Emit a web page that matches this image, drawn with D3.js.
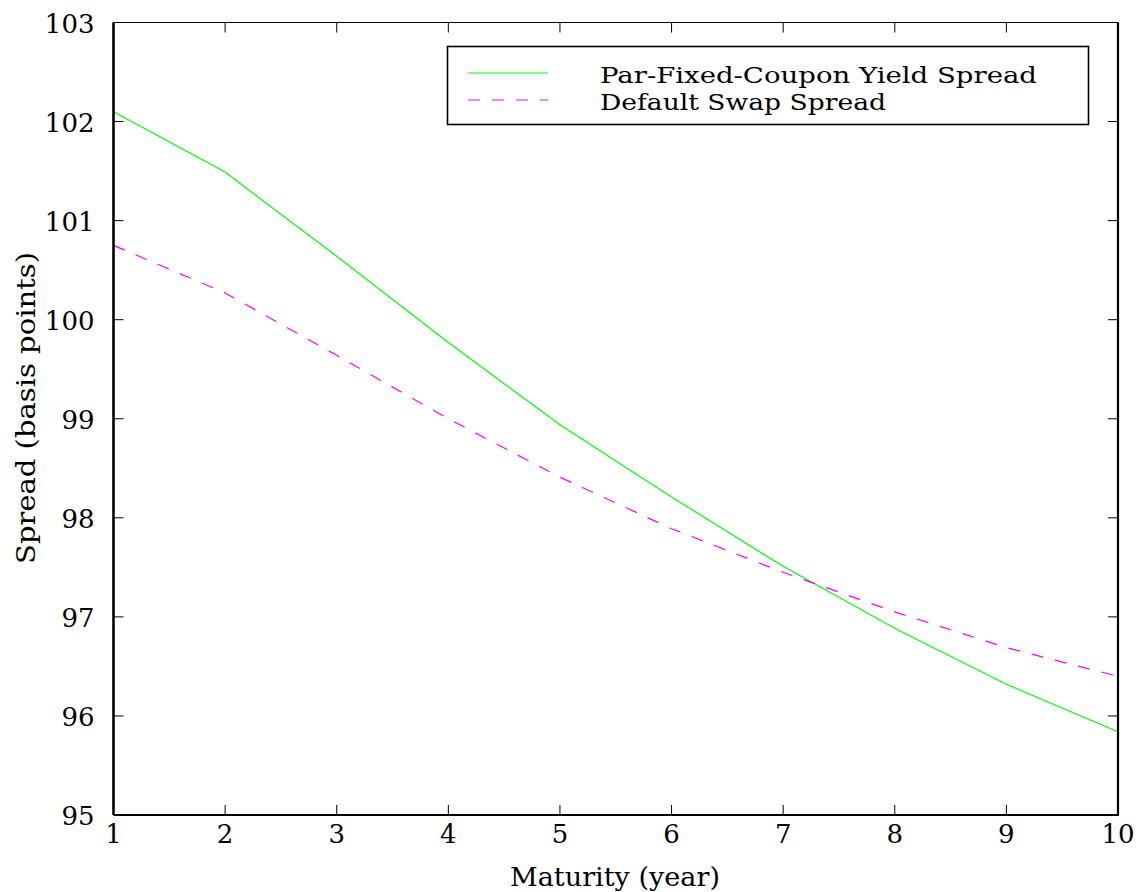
<!DOCTYPE html>
<html><head><meta charset="utf-8">
<script src="https://cdn.jsdelivr.net/npm/d3@7"></script>
<style>body{margin:0;background:#fff}svg{display:block}text{font-family:"DejaVu Serif",serif;fill:#000}</style>
</head><body><svg id="c" width="1143" height="892"></svg>
<script>
const maturities = [1,2,3,4,5,6,7,8,9,10];
const parYieldSpread = [102.10,101.49,100.64,99.77,98.94,98.21,97.51,96.885,96.32,95.84];
const defaultSwapSpread = [100.75,100.27,99.64,99.00,98.41,97.89,97.45,97.05,96.69,96.40];
const xTicks = [1,2,3,4,5,6,7,8,9,10];
const yTicks = [95,96,97,98,99,100,101,102,103];
const seriesNames = ["Par-Fixed-Coupon Yield Spread","Default Swap Spread"];

const svg = d3.select("#c");
const L=113.5, R=1118, T=22.5, B=815;
const x = d3.scaleLinear().domain([1,10]).range([L,R]);
const y = d3.scaleLinear().domain([95,103]).range([B,T]);
const fs = 26;

const tk = 10;
const g = svg.append("g");
xTicks.forEach(v=>{
  g.append("line").attr("x1",x(v)).attr("x2",x(v)).attr("y1",B).attr("y2",B-tk).attr("stroke","#000").attr("stroke-width",1);
  g.append("line").attr("x1",x(v)).attr("x2",x(v)).attr("y1",T).attr("y2",T+tk).attr("stroke","#000").attr("stroke-width",1);
  g.append("text").attr("x",x(v)).attr("y",B+28).attr("text-anchor","middle").attr("font-size",fs).text(v);
});
yTicks.forEach(v=>{
  g.append("line").attr("x1",L).attr("x2",L+tk).attr("y1",y(v)).attr("y2",y(v)).attr("stroke","#000").attr("stroke-width",1);
  g.append("line").attr("x1",R).attr("x2",R-tk).attr("y1",y(v)).attr("y2",y(v)).attr("stroke","#000").attr("stroke-width",1);
  g.append("text").attr("x",L-19).attr("y",y(v)+10).attr("text-anchor","end").attr("font-size",fs).text(v);
});

const line = d3.line().x((d,i)=>x(maturities[i])).y(d=>y(d));
svg.append("path").datum(parYieldSpread).attr("d",line).attr("fill","none").attr("stroke","#00ff00").attr("stroke-width",1.2);
svg.append("path").datum(defaultSwapSpread).attr("d",line).attr("fill","none").attr("stroke","#ff00ff").attr("stroke-width",1.2).attr("stroke-dasharray","12,12");

svg.append("line").attr("x1",L).attr("x2",R).attr("y1",T).attr("y2",T).attr("stroke","#000").attr("stroke-width",1.2);
svg.append("line").attr("x1",L).attr("x2",R+1).attr("y1",B).attr("y2",B).attr("stroke","#000").attr("stroke-width",2.2);
svg.append("line").attr("x1",L).attr("x2",L).attr("y1",T).attr("y2",B).attr("stroke","#000").attr("stroke-width",2.6);
svg.append("line").attr("x1",R).attr("x2",R).attr("y1",T).attr("y2",B).attr("stroke","#000").attr("stroke-width",2.2);

const lg = svg.append("g");
lg.append("rect").attr("x",447.5).attr("y",46.5).attr("width",641).attr("height",78).attr("fill","#fff").attr("stroke","#000").attr("stroke-width",1.6);
lg.append("line").attr("x1",468).attr("x2",548).attr("y1",73).attr("y2",73).attr("stroke","#00ff00").attr("stroke-width",1.2);
lg.append("line").attr("x1",468).attr("x2",548).attr("y1",100).attr("y2",100).attr("stroke","#ff00ff").attr("stroke-width",1.2).attr("stroke-dasharray","12,12");
lg.append("text").attr("x",600).attr("y",83).attr("font-size",23).attr("textLength",437).attr("lengthAdjust","spacingAndGlyphs").text(seriesNames[0]);
lg.append("text").attr("x",600).attr("y",110).attr("font-size",23).attr("textLength",286).attr("lengthAdjust","spacingAndGlyphs").text(seriesNames[1]);

svg.append("text").attr("x",615).attr("y",886).attr("text-anchor","middle").attr("font-size",fs).attr("textLength",210).attr("lengthAdjust","spacingAndGlyphs").text("Maturity (year)");
svg.append("text").attr("transform","translate(35,408) rotate(-90)").attr("text-anchor","middle").attr("font-size",fs).attr("textLength",312).attr("lengthAdjust","spacingAndGlyphs").text("Spread (basis points)");
</script></body></html>
